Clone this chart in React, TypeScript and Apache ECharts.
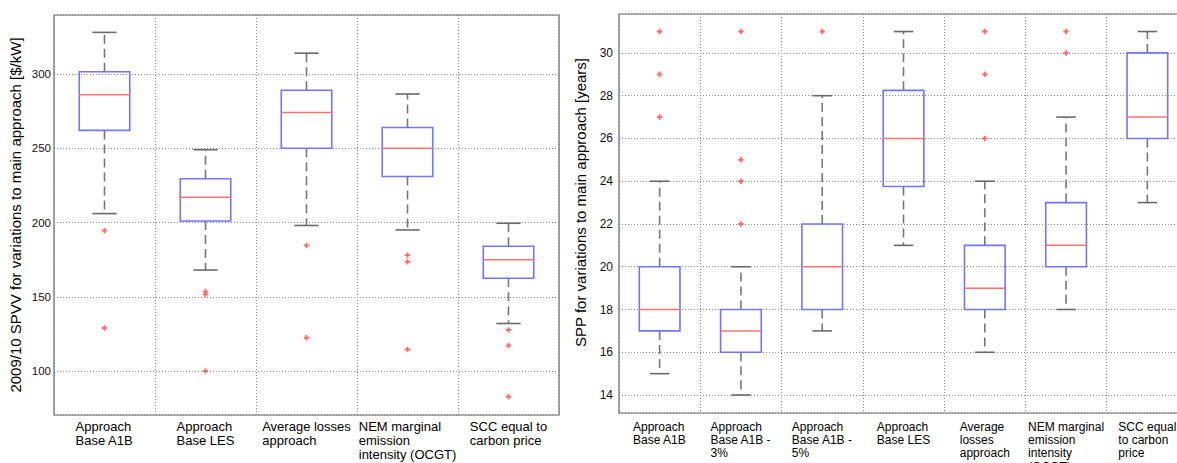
import React, { useEffect, useRef } from "react";
import * as echarts from "echarts";

// ---------- data ----------
const leftCategories = [
  "Approach\nBase A1B",
  "Approach\nBase LES",
  "Average losses\napproach",
  "NEM marginal\nemission\nintensity (OCGT)",
  "SCC equal to\ncarbon price",
];
// [lower whisker, Q1, median, Q3, upper whisker]
const leftBoxes = [
  [206, 262, 286, 301.5, 328],
  [168, 201, 217, 229.5, 249],
  [198, 250, 274, 289, 314],
  [195, 231, 250, 264, 286.5],
  [132, 162.5, 175, 184, 199.5],
];
const leftOutliers = [
  [194.5, 129],
  [153.5, 151.6, 100],
  [184.6, 122.4],
  [178, 173.5, 114.5],
  [127.7, 117.2, 82.7],
];
const leftYName = "2009/10 SPVV for variations to main approach [$/kW]";

const rightCategories = [
  "Approach\nBase A1B",
  "Approach\nBase A1B -\n3%",
  "Approach\nBase A1B -\n5%",
  "Approach\nBase LES",
  "Average\nlosses\napproach",
  "NEM marginal\nemission\nintensity\n(OCGT)",
  "SCC equal\nto carbon\nprice",
];
const rightBoxes = [
  [15, 17, 18, 20, 24],
  [14, 16, 17, 18, 20],
  [17, 18, 20, 22, 28],
  [21, 23.75, 26, 28.25, 31],
  [16, 18, 19, 21, 24],
  [18, 20, 21, 23, 27],
  [23, 26, 27, 30, 31],
];
const rightOutliers = [
  [31, 29, 27],
  [31, 25, 24, 22],
  [31],
  [],
  [31, 29, 26],
  [31, 30],
  [],
];
const rightYName = "SPP for variations to main approach [years]";

// ---------- styles ----------
const FONT = "'Liberation Sans', Arial, Helvetica, sans-serif";
const GRID_LINE = { color: "#888", width: 1, type: [1, 2] as any };

function renderBox(params: any, api: any) {
  const idx = api.value(0);
  const low = api.coord([idx, api.value(1)]);
  const q1 = api.coord([idx, api.value(2)]);
  const med = api.coord([idx, api.value(3)]);
  const q3 = api.coord([idx, api.value(4)]);
  const high = api.coord([idx, api.value(5)]);
  const bw = api.size([1, 0])[0] * 0.5;
  const cx = low[0];
  const cap = bw * 0.24;
  const dashStyle = { stroke: "#777", lineWidth: 1.6, lineDash: [9, 5] };
  const capStyle = { stroke: "#6a6a6a", lineWidth: 1.6 };
  return {
    type: "group",
    children: [
      { type: "line", shape: { x1: cx, y1: q3[1], x2: cx, y2: high[1] }, style: dashStyle },
      { type: "line", shape: { x1: cx, y1: q1[1], x2: cx, y2: low[1] }, style: dashStyle },
      { type: "line", shape: { x1: cx - cap, y1: high[1], x2: cx + cap, y2: high[1] }, style: capStyle },
      { type: "line", shape: { x1: cx - cap, y1: low[1], x2: cx + cap, y2: low[1] }, style: capStyle },
      {
        type: "rect",
        shape: { x: cx - bw / 2, y: q3[1], width: bw, height: q1[1] - q3[1] },
        style: { fill: "none", stroke: "#7474ff", lineWidth: 1.6 },
      },
      {
        type: "line",
        shape: { x1: cx - bw / 2, y1: med[1], x2: cx + bw / 2, y2: med[1] },
        style: { stroke: "#ff7272", lineWidth: 1.5 },
      },
    ],
  };
}

const PLUS = "path://M2,0H4V2H6V4H4V6H2V4H0V2H2Z";

function catAxis(cats: string[], gridIndex: number, fontSize: number, lineHeight: number, margin: number) {
  return {
    type: "category",
    gridIndex,
    data: cats,
    boundaryGap: true,
    axisLine: { show: false },
    axisTick: { show: false },
    splitLine: { show: true, lineStyle: GRID_LINE },
    axisLabel: {
      interval: 0,
      margin,
      formatter: (v: string) =>
        v
          .split("\n")
          .map((l) => `{l|${l}}`)
          .join("\n"),
      rich: {
        l: { align: "left", fontSize, lineHeight, color: "#000", fontFamily: FONT },
      },
      fontSize,
      lineHeight,
      color: "#000",
      fontFamily: FONT,
      align: "center",
      verticalAlign: "top",
    },
  };
}

export default function App() {
  const ref = useRef<HTMLDivElement>(null);
  useEffect(() => {
    if (!ref.current) return;
    const chart = echarts.init(ref.current, undefined, { renderer: "svg" });
    const option: any = {
      animation: false,
      backgroundColor: "#fff",
      textStyle: { fontFamily: FONT },
      grid: [
        {
          left: 54, top: 15, width: 505, height: 400,
          show: true, borderColor: "#666", borderWidth: 1.2,
          containLabel: false, outerBoundsMode: "none",
        },
        {
          left: 619, top: 14, width: 569, height: 399,
          show: true, borderColor: "#666", borderWidth: 1.2,
          containLabel: false, outerBoundsMode: "none",
        },
      ],
      xAxis: [
        catAxis(leftCategories, 0, 13, 14, 4),
        catAxis(rightCategories, 1, 12, 13.3, 7),
      ],
      yAxis: [
        {
          type: "value",
          gridIndex: 0,
          min: 70.4,
          max: 339.7,
          splitNumber: 5,
          axisLine: { show: false },
          axisTick: { show: false },
          splitLine: { show: true, lineStyle: GRID_LINE },
          axisLabel: {
            showMinLabel: false, showMaxLabel: false,
            fontSize: 11.5, color: "#111", margin: 3, fontFamily: FONT,
          },
          name: leftYName,
          nameLocation: "middle",
          nameGap: 31,
          nameTextStyle: { fontSize: 15, color: "#000", fontFamily: FONT },
        },
        {
          type: "value",
          gridIndex: 1,
          min: 13.16,
          max: 31.82,
          splitNumber: 9,
          axisLine: { show: false },
          axisTick: { show: false },
          splitLine: { show: true, lineStyle: GRID_LINE },
          axisLabel: {
            showMinLabel: false, showMaxLabel: false,
            fontSize: 12, color: "#111", margin: 6, fontFamily: FONT,
          },
          name: rightYName,
          nameLocation: "middle",
          nameGap: 31,
          nameTextStyle: { fontSize: 15, color: "#000", fontFamily: FONT, padding: [0, 0, 0, 22] },
        },
      ],
      series: [
        {
          type: "custom",
          xAxisIndex: 0,
          yAxisIndex: 0,
          renderItem: renderBox,
          encode: { x: 0, y: [1, 2, 3, 4, 5] },
          data: leftBoxes.map((b, i) => [i, ...b]),
          silent: true,
        },
        {
          type: "scatter",
          xAxisIndex: 0,
          yAxisIndex: 0,
          symbol: PLUS,
          symbolSize: 5.5,
          itemStyle: { color: "#ff5a5a", opacity: 0.9 },
          data: leftOutliers.flatMap((arr, i) => arr.map((v) => [i, v])),
          silent: true,
        },
        {
          type: "custom",
          xAxisIndex: 1,
          yAxisIndex: 1,
          renderItem: renderBox,
          encode: { x: 0, y: [1, 2, 3, 4, 5] },
          data: rightBoxes.map((b, i) => [i, ...b]),
          silent: true,
        },
        {
          type: "scatter",
          xAxisIndex: 1,
          yAxisIndex: 1,
          symbol: PLUS,
          symbolSize: 5.5,
          itemStyle: { color: "#ff5a5a", opacity: 0.9 },
          data: rightOutliers.flatMap((arr, i) => arr.map((v) => [i, v])),
          silent: true,
        },
      ],
    };
    chart.setOption(option);
    return () => chart.dispose();
  }, []);
  return (
    <div
      style={{
        position: "absolute",
        left: 0,
        top: 0,
        width: 1177,
        height: 463,
        overflow: "hidden",
        background: "#fff",
      }}
    >
      <div ref={ref} style={{ width: 1200, height: 480 }} />
    </div>
  );
}
